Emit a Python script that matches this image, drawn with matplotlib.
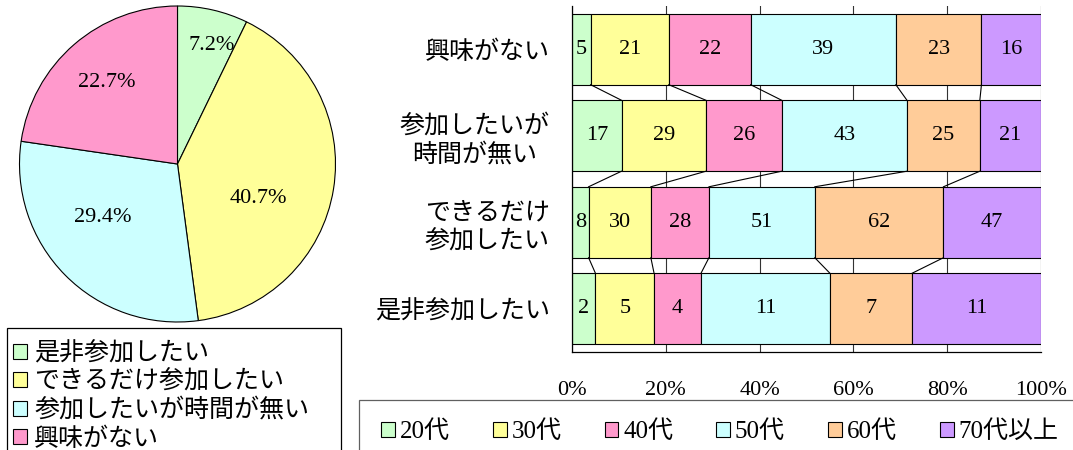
import numpy as np
import matplotlib
matplotlib.use("Agg")
import matplotlib.pyplot as plt
from matplotlib.patches import Patch, Rectangle

# ---- data ----
pie_labels = ["是非参加したい", "できるだけ参加したい", "参加したいが時間が無い", "興味がない"]
pie_values = [7.2, 40.7, 29.4, 22.7]
pie_colors = ["#CCFFCC", "#FFFF99", "#CCFFFF", "#FF99CC"]

# bar chart, categories listed top to bottom
bar_categories = ["興味がない", "参加したいが\n時間が無い", "できるだけ\n参加したい", "是非参加したい"]
age_groups = ["20代", "30代", "40代", "50代", "60代", "70代以上"]
age_colors = ["#CCFFCC", "#FFFF99", "#FF99CC", "#CCFFFF", "#FFCC99", "#CC99FF"]
counts_20 = [5, 17, 8, 2]
counts_30 = [21, 29, 30, 5]
counts_40 = [22, 26, 28, 4]
counts_50 = [39, 43, 51, 11]
counts_60 = [23, 25, 62, 7]
counts_70 = [16, 21, 47, 11]
x_ticks = [0, 20, 40, 60, 80, 100]

JP = "Noto Sans CJK JP"
SERIF = "Liberation Serif"
MIXED = [SERIF, JP]

W, H = 1073, 450
fig = plt.figure(figsize=(W / 100, H / 100), dpi=100)


def px_axes(left, top, right, bottom):
    return fig.add_axes([left / W, 1 - bottom / H, (right - left) / W, (bottom - top) / H])


# ---- pie ----
ax_pie = px_axes(19.5, 6, 335.5, 322)
wedges, _, autotexts = ax_pie.pie(
    pie_values, colors=pie_colors, startangle=90, counterclock=False,
    autopct="%.1f%%", pctdistance=0.6,
    wedgeprops=dict(edgecolor="black", linewidth=0.8),
    textprops=dict(fontfamily=SERIF, fontsize=16),
)
label_radius = [0.78, 0.56, 0.58, 0.68]
label_turn = [-3, -14, -9, 0]  # degrees, nudges toward where the original places them
for w, t, r, d in zip(wedges, autotexts, label_radius, label_turn):
    ang = np.deg2rad((w.theta1 + w.theta2) / 2 + d)
    t.set_position((r * np.cos(ang), r * np.sin(ang)))
ax_pie.set_xlim(-1, 1)
ax_pie.set_ylim(-1, 1)
ax_pie.set_aspect("auto")
ax_pie.axis("off")

# pie legend box (runs past the bottom edge like the original)
fig.patches.append(Rectangle((7 / W, 1 - 470 / H), 334 / W, 142 / H, transform=fig.transFigure,
                             facecolor="white", edgecolor="black", linewidth=0.9))
pie_handles = [Patch(facecolor=c, edgecolor="black", linewidth=0.8) for c in pie_colors]
fig.legend(pie_handles, pie_labels, loc="upper left", bbox_to_anchor=(13 / W, 1 - 340 / H),
           frameon=False, prop=dict(family=JP, size=18), handlelength=0.55, handleheight=0.55,
           handletextpad=0.3, labelspacing=0.1, borderpad=0, borderaxespad=0)

# ---- stacked 100% bars ----
ax = px_axes(572, 6, 1041, 352)
series = [counts_20, counts_30, counts_40, counts_50, counts_60, counts_70]
data = np.array(series, dtype=float)
totals = data.sum(axis=0)
pct = data / totals * 100
y = np.arange(len(bar_categories))
bar_h = 0.82

left = np.zeros(len(bar_categories))
bounds = [left.copy()]
for vals, p, col in zip(series, pct, age_colors):
    ax.barh(y, p, left=left, height=bar_h, color=col, edgecolor="black", linewidth=0.8, zorder=2)
    for yi, li, pi, v in zip(y, left, p, vals):
        ax.text(li + pi / 2, yi, str(v), ha="center", va="center",
                fontfamily=SERIF, fontsize=16, zorder=4)
    left = left + p
    bounds.append(left.copy())

# series lines between neighbouring bars
for b in bounds[1:-1]:
    for i in range(len(y) - 1):
        ax.plot([b[i], b[i + 1]], [y[i] + bar_h / 2, y[i + 1] - bar_h / 2],
                color="black", linewidth=0.8, zorder=3)

ax.set_xlim(0, 100)
ax.set_ylim(len(y) - 0.5, -0.5)
ax.set_yticks(y)
ax.set_yticklabels(bar_categories, fontfamily=JP, fontsize=18, linespacing=1.15,
                   multialignment="center")
ax.set_xticks(x_ticks)
ax.set_xticklabels([f"{t}%" for t in x_ticks], fontfamily=SERIF, fontsize=16)
ax.tick_params(axis="both", length=0)
ax.tick_params(axis="x", pad=21)
ax.tick_params(axis="y", pad=16)
ax.set_axisbelow(True)
ax.xaxis.grid(True, color="#333333", linewidth=0.8)
for s in ["top", "right"]:
    ax.spines[s].set_visible(False)
ax.spines["left"].set_linewidth(0.9)
ax.spines["bottom"].set_linewidth(0.9)

# age legend box
fig.patches.append(Rectangle((359 / W, 1 - 470 / H), 740 / W, 70 / H, transform=fig.transFigure,
                             facecolor="white", edgecolor="#606060", linewidth=0.9))
age_handles = [Patch(facecolor=c, edgecolor="black", linewidth=0.8) for c in age_colors]
fig.legend(age_handles, age_groups, loc="center left", bbox_to_anchor=(381 / W, 1 - 432 / H),
           ncol=6, frameon=False, prop=dict(family=MIXED, size=18), handlelength=0.55,
           handleheight=0.55, handletextpad=0.2, columnspacing=1.72, borderpad=0, borderaxespad=0)

fig.savefig("out.png", dpi=100)
